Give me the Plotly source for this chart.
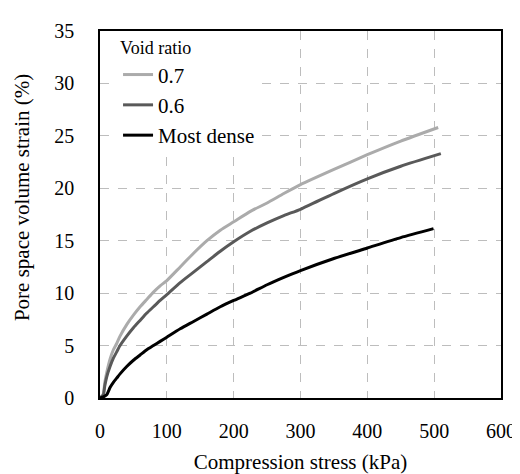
import plotly.graph_objects as go

# Compression stress (kPa) and pore space volume strain (%)
x_07 = [0, 5, 7, 10, 15, 20, 25, 30, 40, 50, 60, 70, 80, 90, 100, 120, 140, 160, 180, 200,
        225, 250, 275, 300, 350, 400, 450, 506]
y_07 = [0, 0.4, 1.4, 2.4, 3.7, 4.6, 5.2, 5.9, 7.0, 7.9, 8.7, 9.4, 10.1, 10.7, 11.2, 12.5, 13.8,
        15.0, 16.0, 16.8, 17.8, 18.6, 19.5, 20.35, 21.8, 23.2, 24.5, 25.8]

x_06 = [0, 5, 7, 10, 15, 20, 25, 30, 40, 50, 60, 70, 80, 90, 100, 120, 140, 160, 180, 200,
        225, 250, 275, 300, 350, 400, 450, 510]
y_06 = [0, 0.3, 1.1, 2.0, 3.0, 3.8, 4.4, 5.0, 5.9, 6.7, 7.4, 8.1, 8.7, 9.3, 9.85, 11.0, 12.0,
        13.0, 14.0, 14.9, 15.9, 16.7, 17.4, 18.0, 19.5, 20.9, 22.1, 23.3]

x_md = [0, 5, 10, 13, 15, 20, 25, 30, 40, 50, 60, 70, 80, 90, 100, 120, 140, 160, 180, 200,
        225, 250, 275, 300, 350, 400, 450, 499]
y_md = [0, 0.1, 0.3, 0.7, 1.0, 1.5, 1.9, 2.3, 3.0, 3.6, 4.1, 4.6, 5.0, 5.4, 5.8, 6.6, 7.3,
        8.0, 8.7, 9.3, 10.0, 10.8, 11.5, 12.15, 13.3, 14.3, 15.3, 16.15]

series_names = ["0.7", "0.6", "Most dense"]
series_colors = ["#ABABAB", "#595959", "#000000"]

FONT = "Liberation Serif"

fig = go.Figure()
for xs, ys, name, col in zip([x_07, x_06, x_md], [y_07, y_06, y_md], series_names, series_colors):
    fig.add_trace(go.Scatter(x=xs, y=ys, mode="lines", name=name,
                             line=dict(color=col, width=3, shape="spline", smoothing=0.6)))

axis_common = dict(
    showline=True, linecolor="black", linewidth=1.5, mirror=True,
    showgrid=True, gridcolor="#BDBDBD", griddash="dash", gridwidth=1,
    zeroline=False, ticks="", tickfont=dict(family=FONT, size=20, color="black"),
)

fig.update_layout(
    width=520, height=474,
    margin=dict(l=92, r=16, t=19, b=71),
    paper_bgcolor="white", plot_bgcolor="white",
    font=dict(family=FONT, size=20, color="black"),
    xaxis=dict(range=[0, 600], dtick=100, ticklabelstandoff=14,
               title=dict(text="Compression stress (kPa)", font=dict(family=FONT, size=21), standoff=14),
               **axis_common),
    yaxis=dict(range=[0, 35], dtick=5, ticklabelstandoff=20, **axis_common),
    legend=dict(x=0.045, y=1.0, xanchor="left", yanchor="top",
                bgcolor="white", borderwidth=0,
                title=dict(text="Void ratio", font=dict(family=FONT, size=18)),
                font=dict(family=FONT, size=21), tracegroupgap=0),
    showlegend=True,
    annotations=[dict(text="Pore space volume strain (%)", textangle=-90,
                      xref="paper", yref="paper", x=-0.195, y=0.547,
                      xanchor="center", yanchor="middle", showarrow=False,
                      font=dict(family=FONT, size=21, color="black"))],
)

fig.write_html("out.html")
